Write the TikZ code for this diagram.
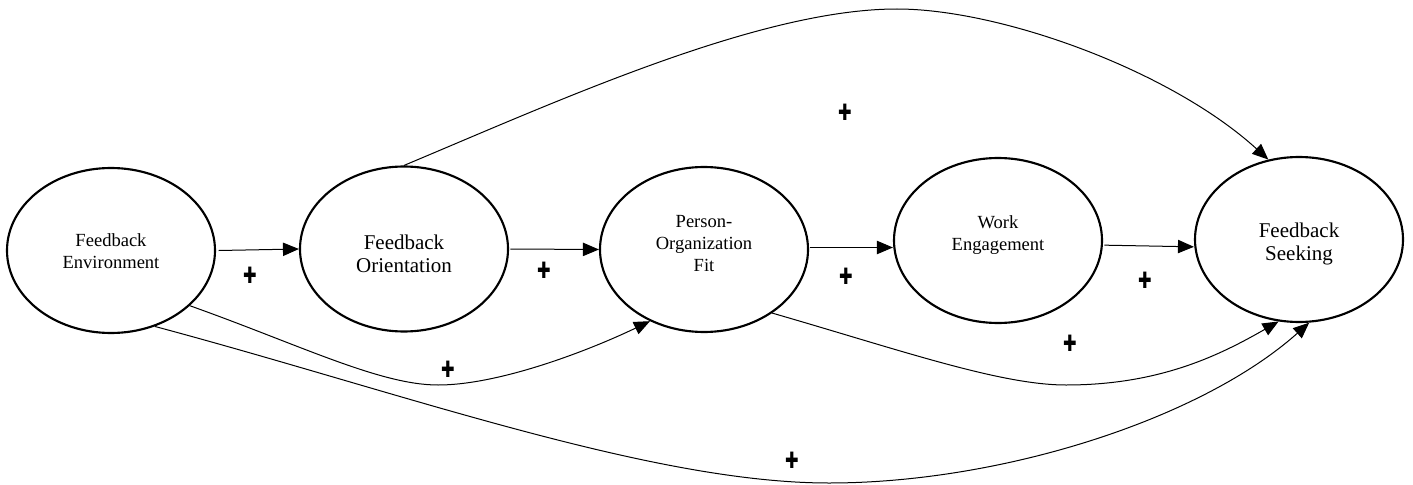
\documentclass[tikz,border=0pt]{standalone}
\usepackage{fontspec}
\setmainfont{Liberation Serif}
\newfontfamily\plusfont{DejaVu Sans}
\usetikzlibrary{shapes.geometric,arrows.meta}
\begin{document}
\begin{tikzpicture}[x=0.75pt,y=-0.75pt,
  ell/.style={draw,ellipse,line width=1.6pt,minimum width=156pt,minimum height=123.75pt,inner sep=0pt},
  lbl/.style={align=center,inner sep=0pt,font=\fontsize{13.9}{16.5}\selectfont},
  lblbig/.style={align=center,inner sep=0pt,font=\fontsize{15.75}{17.25}\selectfont},
  arr/.style={-{Triangle[length=12pt,width=10pt]},line width=0.75pt},
  plus/.style={inner sep=0pt,font=\plusfont\fontsize{13.5}{13.5}\selectfont}]
\useasboundingbox (0,0) rectangle (1413,485);
% ellipses
\node[ell] (e1) at (111,250.5) {};
\node[ell] (e2) at (404,249) {};
\node[ell] (e3) at (704,249.5) {};
\node[ell] (e4) at (998,240.5) {};
\node[ell] (e5) at (1299,239.5) {};
% labels
\node[lbl] (t1) at (111,251.5) {Feedback\\Environment};
\node[lblbig] (t2) at (404,253.5) {Feedback\\Orientation};
\node[lbl] (t3) at (704,243.5) {Person-\\Organization\\Fit};
\node[lbl] (t4) at (998,235) {Work\\Engagement};
\node[lblbig] (t5) at (1299,243.5) {Feedback\\Seeking};
% straight arrows
\draw[arr] ([xshift=2pt]e1.east) -- (e2.west);
\draw[arr] ([xshift=1pt]e2.east) -- (e3.west);
\draw[arr] ([xshift=1pt,yshift=1.5pt]e3.east) -- ([yshift=1.5pt]e3.east -| e4.west);
\draw[arr] ([xshift=1pt,yshift=-3.5pt]e4.east) -- ([yshift=-5.5pt]e5.west);
% curved arrows
\draw[arr] (e2.north) .. controls (560,100) and (760,9) .. (897,9)
  .. controls (1000,9) and (1170,70) .. (e5.111);
\draw[arr] (e1.-35) .. controls (300,345) and (380,385) .. (438,385)
  .. controls (500,385) and (590,350) .. (e3.233);
\draw[arr] (e3.-43) .. controls (900,350) and (1000,385) .. (1066,385)
  .. controls (1160,385) and (1220,355) .. (e5.256);
\draw[arr] (e1.-60) .. controls (400,392) and (650,483) .. (829,483)
  .. controls (1000,483) and (1200,420) .. (e5.277);
% plus signs
\node[plus] (p1) at (250,275) {\scalebox{0.9}[1.25]{✚}};
\node[plus] (p2) at (544,270) {\scalebox{0.9}[1.25]{✚}};
\node[plus] (p3) at (846,276) {\scalebox{0.9}[1.25]{✚}};
\node[plus] (p4) at (1145,280) {\scalebox{0.9}[1.25]{✚}};
\node[plus] (p5) at (845,112) {\scalebox{0.9}[1.25]{✚}};
\node[plus] (p6) at (448,369) {\scalebox{0.9}[1.25]{✚}};
\node[plus] (p7) at (1070,343) {\scalebox{0.9}[1.25]{✚}};
\node[plus] (p8) at (792,460) {\scalebox{0.9}[1.25]{✚}};
\end{tikzpicture}
\end{document}
